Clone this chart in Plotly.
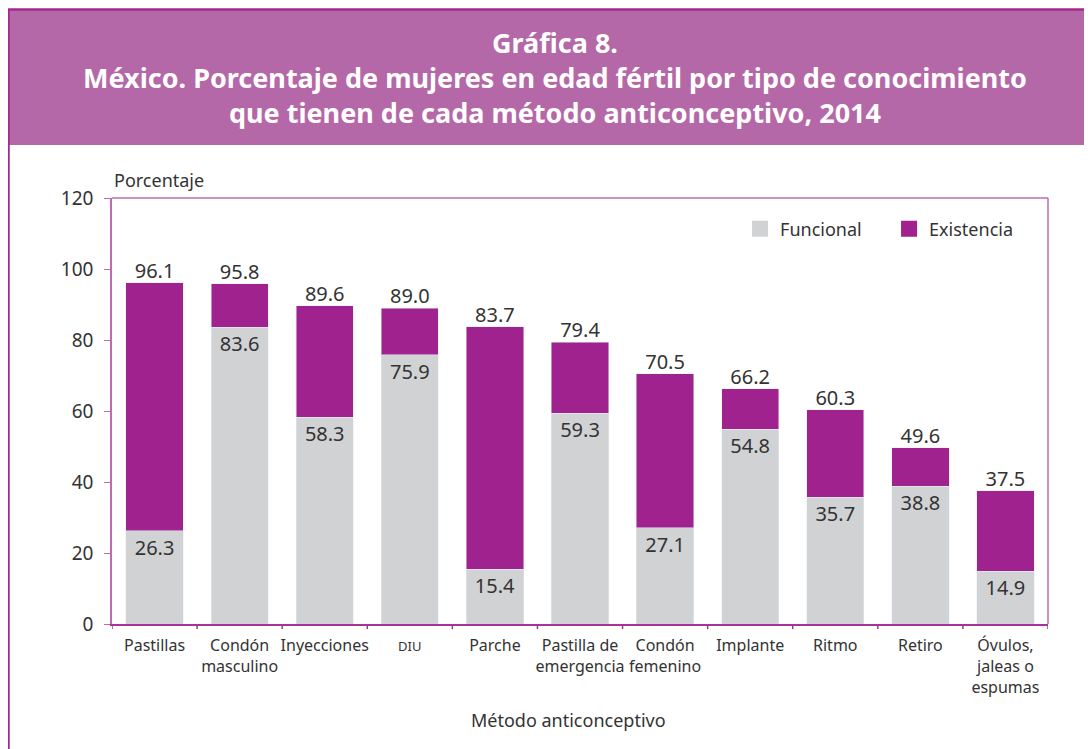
import plotly.graph_objects as go

categorias = ["Pastillas", "Condón<br>masculino", "Inyecciones", "<span style='font-size:13px'>DIU</span>",
              "Parche", "Pastilla de<br>emergencia", "Condón<br>femenino", "Implante",
              "Ritmo", "Retiro", "Óvulos,<br>jaleas o<br>espumas"]
total = [96.1, 95.8, 89.6, 89.0, 83.7, 79.4, 70.5, 66.2, 60.3, 49.6, 37.5]
funcional = [26.3, 83.6, 58.3, 75.9, 15.4, 59.3, 27.1, 54.8, 35.7, 38.8, 14.9]
existencia = [round(t - f, 1) for t, f in zip(total, funcional)]
y_ticks = [0, 20, 40, 60, 80, 100, 120]

GRAY = "#d1d2d4"
PURPLE = "#a0228e"
AXIS = "#c06ab3"
FONT = "Noto Sans"
TXT = "#333333"

x = list(range(len(categorias)))

fig = go.Figure()
fig.add_trace(go.Bar(
    x=x, y=funcional, name="Funcional", marker_color=GRAY, width=0.673, showlegend=False,
    text=[f"{v:.1f}" for v in funcional], textposition="inside", insidetextanchor="end",
    textfont=dict(family=FONT, size=20, color=TXT), textangle=0,
))
fig.add_trace(go.Bar(
    x=x, y=existencia, name="Existencia", marker_color=PURPLE, width=0.673, showlegend=False,
))
fig.add_trace(go.Scatter(
    x=x, y=total, mode="text", text=[f"{v:.1f}" for v in total],
    textposition="top center", textfont=dict(family=FONT, size=20, color=TXT),
    showlegend=False, cliponaxis=False, hoverinfo="skip",
))
# legend entries
fig.add_trace(go.Scatter(x=[None], y=[None], mode="markers", name="Funcional",
                         marker=dict(symbol="square", size=16, color=GRAY)))
fig.add_trace(go.Scatter(x=[None], y=[None], mode="markers", name="Existencia",
                         marker=dict(symbol="square", size=16, color=PURPLE)))

fig.update_layout(
    width=1092, height=749,
    barmode="stack",
    paper_bgcolor="white", plot_bgcolor="white",
    margin=dict(l=104, r=52, t=190, b=133, autoexpand=False),
    font=dict(family=FONT, color=TXT),
    legend=dict(orientation="h", x=0.671, y=0.927, xanchor="left", yanchor="middle",
                font=dict(family=FONT, size=18, color=TXT), traceorder="normal",
                entrywidth=104, entrywidthmode="pixels", itemsizing="trace",
                bgcolor="rgba(0,0,0,0)"),
    xaxis=dict(tickmode="array", tickvals=x, ticktext=categorias, range=[-0.5, 10.5],
               showline=True, linecolor="#a6339a", linewidth=2, mirror=False,
               ticks="", tickangle=0, ticklabelstandoff=6,
               tickfont=dict(family=FONT, size=16, color=TXT),
               showgrid=False, zeroline=False),
    yaxis=dict(range=[0, 120], tickvals=y_ticks, showline=True, linecolor=AXIS, linewidth=1.5,
               ticks="outside", ticklen=6, tickcolor=AXIS, ticklabelstandoff=7,
               tickfont=dict(family=FONT, size=19, color=TXT),
               showgrid=False, zeroline=False),
)

shapes = []
for i in range(len(categorias) + 1):
    shapes.append(dict(type="line", xref="x", yref="paper", x0=i - 0.5, x1=i - 0.5, y0=0, y1=-0.012,
                       line=dict(color="#a6339a", width=1.5)))
shapes.append(dict(type="line", xref="paper", yref="paper", x0=0, x1=1, y0=1, y1=1, line=dict(color=AXIS, width=1.5)))
shapes.append(dict(type="line", xref="paper", yref="paper", x0=1, x1=1, y0=0, y1=1, line=dict(color=AXIS, width=1.5)))

# helpers: page pixel -> paper coords (figure is drawn at an 8px page offset)
def px(v):
    return (v - 112) / 936
def py(v):
    return (624 - v) / 426

shapes.append(dict(type="rect", xref="paper", yref="paper", x0=px(8), x1=px(1110), y0=py(145), y1=py(9),
                   fillcolor="#b568a8", line=dict(width=0), layer="below"))
shapes.append(dict(type="rect", xref="paper", yref="paper", x0=px(8.5), x1=px(1110), y0=py(770), y1=py(9.5),
                   fillcolor="rgba(0,0,0,0)", line=dict(color="#a6288f", width=2.5)))
fig.update_layout(shapes=shapes)

titulo = ["Gráfica 8.",
          "México. Porcentaje de mujeres en edad fértil por tipo de conocimiento",
          "que tienen de cada método anticonceptivo, 2014"]
fig.add_annotation(xref="paper", yref="paper", x=px(555), y=py(77), xanchor="center", yanchor="middle",
                   text="<b>" + "<br>".join(titulo) + "</b>", showarrow=False, align="center",
                   font=dict(family=FONT, size=27, color="white"))
fig.add_annotation(xref="paper", yref="paper", x=px(112), y=py(180), xanchor="left", yanchor="middle",
                   text="Porcentaje", showarrow=False, font=dict(family=FONT, size=18, color=TXT))
fig.add_annotation(xref="paper", yref="paper", x=px(568), y=py(720), xanchor="center", yanchor="middle",
                   text="Método anticonceptivo", showarrow=False, font=dict(family=FONT, size=18, color=TXT))

fig.write_html("out.html")
